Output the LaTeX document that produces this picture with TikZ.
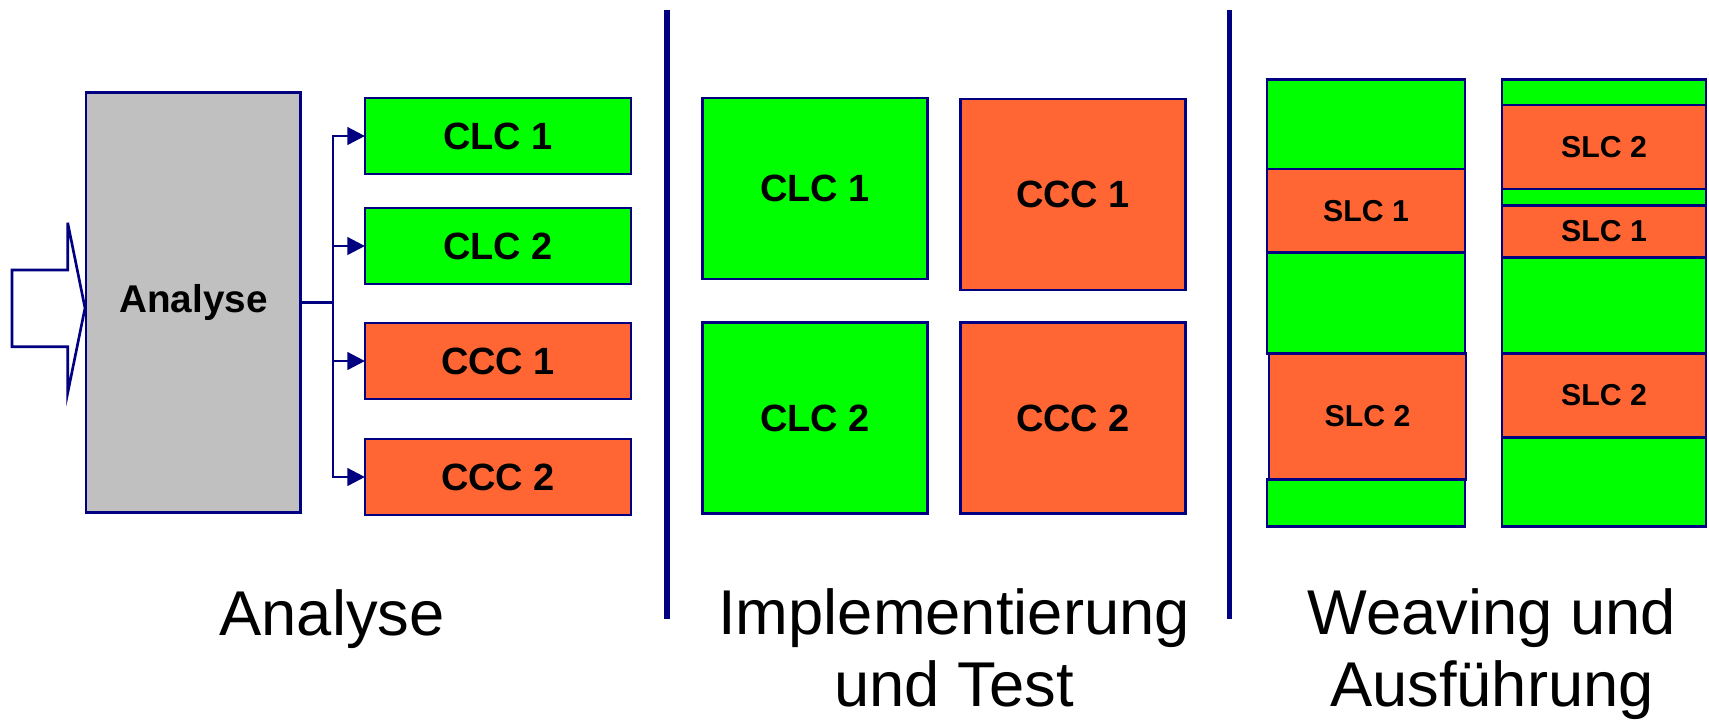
\documentclass[tikz,border=0pt]{standalone}
\usepackage{fontspec}
\setmainfont{Liberation Sans}
\usetikzlibrary{arrows.meta}
\definecolor{navy}{RGB}{0,0,128}
\definecolor{clcgreen}{RGB}{0,255,0}
\definecolor{cccorange}{RGB}{255,102,51}
\definecolor{boxgray}{RGB}{192,192,192}

\begin{document}
\begin{tikzpicture}[x=0.01cm, y=-0.01cm,
    box/.style={draw=navy, line width=0.75pt, inner sep=0pt, outer sep=0pt,
                font=\bfseries\fontsize{10.8}{13}\selectfont},
    clc/.style={fill=clcgreen},
    ccc/.style={fill=cccorange},
    slot/.style={box, minimum width=2.66cm, minimum height=0.76cm},
    part/.style={box, minimum width=2.245cm, minimum height=1.91cm},
    seg/.style={box, minimum width=1.98cm, font=\bfseries\fontsize{8.6}{10}\selectfont},
    segb/.style={seg, minimum width=2.037cm},
    conn/.style={navy, line width=0.75pt},
    sep/.style={navy, line width=1.6pt},
    phase/.style={font=\fontsize{18}{20.2}\selectfont, align=center, anchor=base}]
    \useasboundingbox (0,0) rectangle (1709,723);

    % Separators
    \draw[sep] (667,10) -- (667,619);
    \draw[sep] (1229.5,10) -- (1229.5,619);

    % Phase 1: Analyse
    \node[box, fill=boxgray, minimum width=2.147cm, minimum height=4.197cm,
          font=\bfseries\fontsize{11}{13}\selectfont] (ana) at (193.4,302.5) {Analyse};
    \draw[conn, fill=white] (12,270) -- (67.7,270) -- (67.7,222.7) -- (85,308)
        -- (67.7,393) -- (67.7,346.7) -- (12,346.7) -- cycle;

    \node[slot, clc] (clcA) at (498,136) {CLC 1};
    \node[slot, clc] (clcB) at (498,246) {CLC 2};
    \node[slot, ccc] (cccA) at (498,361) {CCC 1};
    \node[slot, ccc] (cccB) at (498,477) {CCC 2};

    \coordinate (split) at (333,302.5);
    \draw[conn] (ana.east) -- (split);
    \foreach \b in {clcA,clcB,cccA,cccB}
        \draw[conn, -{Triangle[length=5pt,width=5pt]}] (split) |- (\b.west);

    % Phase 2: Implementierung und Test
    \node[part, clc, minimum height=1.81cm] (impA) at (815,188.5) {CLC 1};
    \node[part, ccc] (impB) at (1073,194.5) {CCC 1};
    \node[part, clc] (impC) at (815,418) {CLC 2};
    \node[part, ccc] (impD) at (1073,418) {CCC 2};

    % Phase 3: Weaving und Ausfuehrung, left column
    \node[seg, clc, minimum height=0.895cm] (wa1) at (1366,124.25) {};
    \node[seg, ccc, minimum height=0.837cm] (wa2) at (1366,210.85) {SLC 1};
    \node[seg, clc, minimum height=1.006cm] (wa3) at (1366,303) {};
    \node[seg, ccc, minimum height=1.26cm, minimum width=1.97cm] (wa4) at (1367.5,416.3) {SLC 2};
    \node[seg, clc, minimum height=0.474cm] (wa5) at (1366,503) {};

    % right column
    \node[segb, clc, minimum height=0.255cm] (wb1) at (1604,92.25) {};
    \node[segb, ccc, minimum height=0.84cm] (wb2) at (1604,147) {SLC 2};
    \node[segb, clc, minimum height=0.167cm] (wb3) at (1604,197.35) {};
    \node[segb, ccc, minimum height=0.516cm] (wb4) at (1604,231.5) {SLC 1};
    \node[segb, clc, minimum height=0.96cm] (wb5) at (1604,305.3) {};
    \node[segb, ccc, minimum height=0.84cm] (wb6) at (1604,395.3) {SLC 2};
    \node[segb, clc, minimum height=0.894cm] (wb7) at (1604,482) {};

    % Phase labels
    \node[phase] (labA) at (332,635) {Analyse};
    \node[phase] (labB) at (954,706) {Implementierung\\und Test};
    \node[phase] (labC) at (1492,706) {Weaving und\\Ausführung};
\end{tikzpicture}
\end{document}
